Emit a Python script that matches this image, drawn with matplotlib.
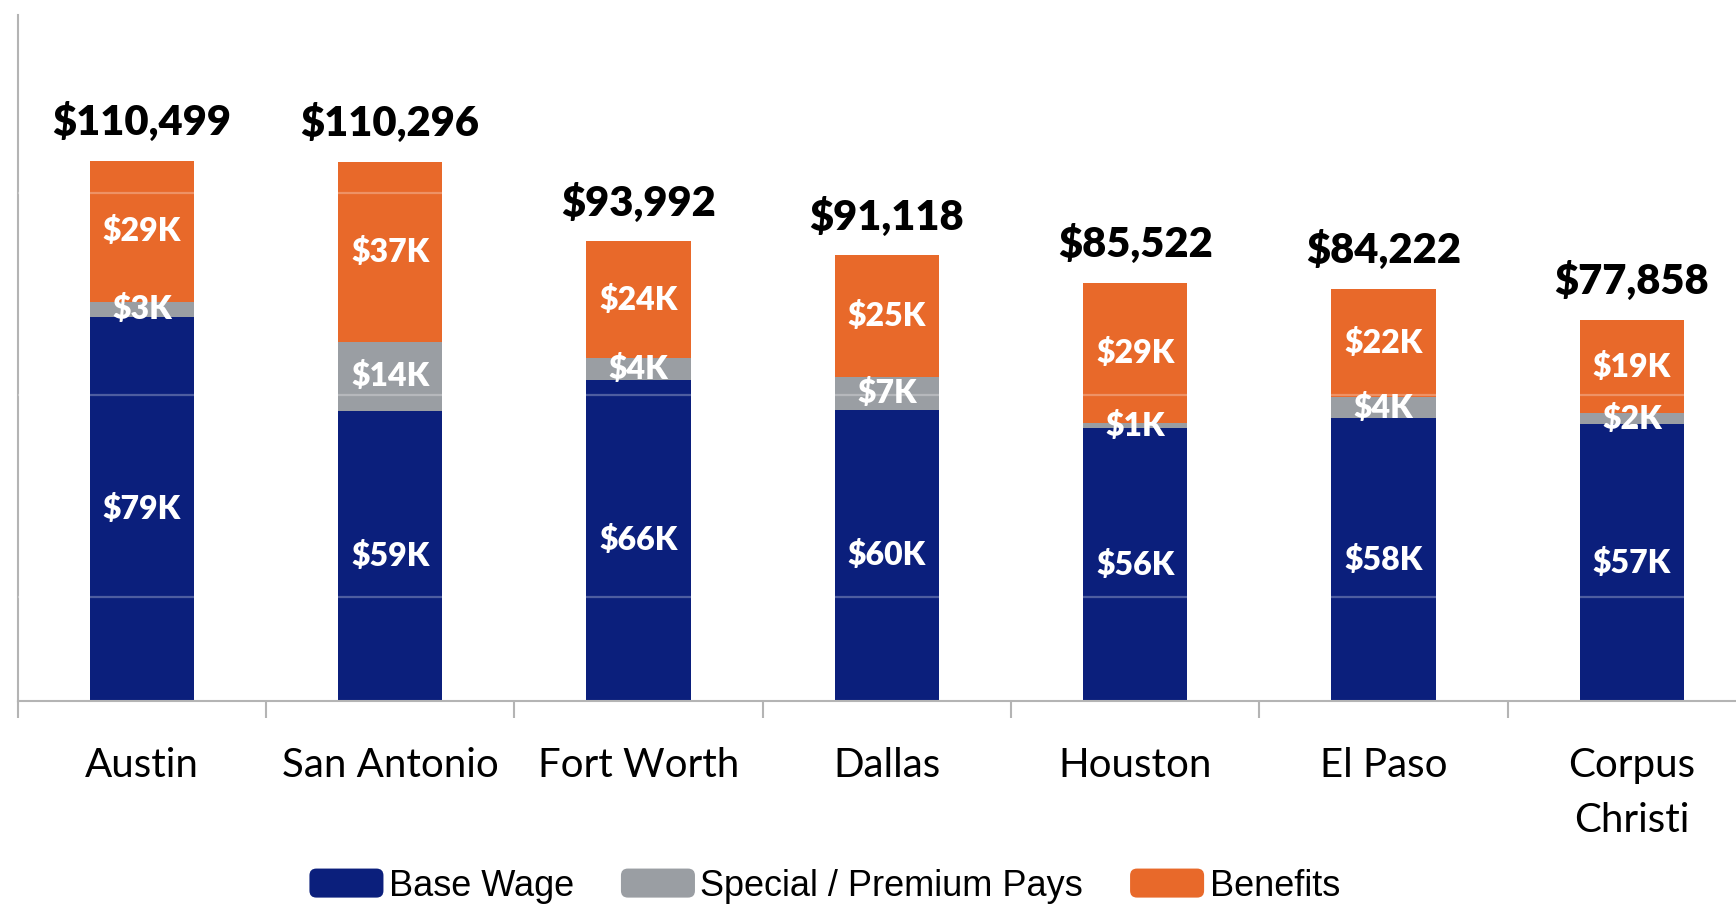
import matplotlib
matplotlib.use("Agg")
import matplotlib.pyplot as plt
import numpy as np
from matplotlib.patches import Patch, FancyBboxPatch
from matplotlib.legend_handler import HandlerPatch

# data (dollars)
cities = ["Austin", "San Antonio", "Fort Worth", "Dallas", "Houston", "El Paso", "Corpus\nChristi"]
base_wage = [78600, 59300, 65700, 59600, 55800, 57800, 56600]
special_pay = [3000, 14200, 4400, 6600, 1000, 4300, 2200]
benefits = [28899, 36796, 23892, 24918, 28722, 22122, 19058]
totals = [110499, 110296, 93992, 91118, 85522, 84222, 77858]
series_names = ["Base Wage", "Special / Premium Pays", "Benefits"]
grid_values = [21300, 62600, 103900]

NAVY = "#0b1f7c"
GRAY = "#9a9ea3"
ORANGE = "#e8692a"


class RoundHandler(HandlerPatch):
    def create_artists(self, legend, orig_handle, xdescent, ydescent,
                       width, height, fontsize, trans):
        p = FancyBboxPatch((-xdescent, -ydescent), width, height,
                           boxstyle="round,pad=0,rounding_size=5",
                           fc=orig_handle.get_facecolor(), ec="none",
                           transform=trans)
        return [p]


fig = plt.figure(figsize=(17.36, 9.06), dpi=100)
ax = fig.add_axes([17.7 / 1736, 1 - 701 / 906, (1756 - 17.7) / 1736, (701 - 15) / 906])

x = np.arange(len(cities))
w = 0.42
base = np.array(base_wage)
spec = np.array(special_pay)
ben = np.array(benefits)

ax.bar(x, base, w, color=NAVY, zorder=2)
ax.bar(x, spec, w, bottom=base, color=GRAY, zorder=2)
ax.bar(x, ben, w, bottom=base + spec, color=ORANGE, zorder=2)

# faint gridlines that show over the bars only
for g in grid_values:
    ax.axhline(g, color="white", alpha=0.28, lw=1.6, zorder=3)

seg_font = dict(family="Lato", weight="heavy", fontsize=23, color="white",
                ha="center", va="center", zorder=4)
for i in range(len(cities)):
    ax.text(x[i], base[i] / 2, f"${round(base[i] / 1000)}K", **seg_font)
    ax.text(x[i], base[i] + spec[i] / 2, f"${round(spec[i] / 1000)}K", **seg_font)
    ax.text(x[i], base[i] + spec[i] + ben[i] / 2, f"${round(ben[i] / 1000)}K", **seg_font)
    top = base[i] + spec[i] + ben[i]
    ax.annotate(f"${totals[i]:,}", (x[i], top), xytext=(0, 28), textcoords="offset points",
                ha="center", va="center", family="Lato", weight="heavy", fontsize=30,
                color="black")

ax.set_xlim(-0.5, 6.5)
ax.set_ylim(0, 140300)
ax.set_yticks([])
for s in ["top", "right"]:
    ax.spines[s].set_visible(False)
ax.spines["left"].set_color("#b4b4b4")
ax.spines["bottom"].set_color("#b4b4b4")
ax.spines["left"].set_linewidth(1.5)
ax.spines["bottom"].set_linewidth(1.5)

ax.set_xticks(x)
ax.set_xticklabels(cities, family="Lato", fontsize=29, linespacing=1.6)
ax.tick_params(axis="x", which="major", length=0, pad=33)
ax.set_xticks(np.arange(len(cities) + 1) - 0.5, minor=True)
ax.tick_params(axis="x", which="minor", length=12, width=1.5, color="#b4b4b4")

handles = [Patch(color=NAVY), Patch(color=GRAY), Patch(color=ORANGE)]
fig.legend(handles, series_names, loc="center", bbox_to_anchor=(0.475, 0.022),
           ncol=3, frameon=False, prop=dict(family="Liberation Sans", size=26),
           handlelength=2.05, handleheight=0.86, handletextpad=0.15, columnspacing=1.3,
           handler_map={Patch: RoundHandler()})

fig.savefig("out.png", dpi=100)
